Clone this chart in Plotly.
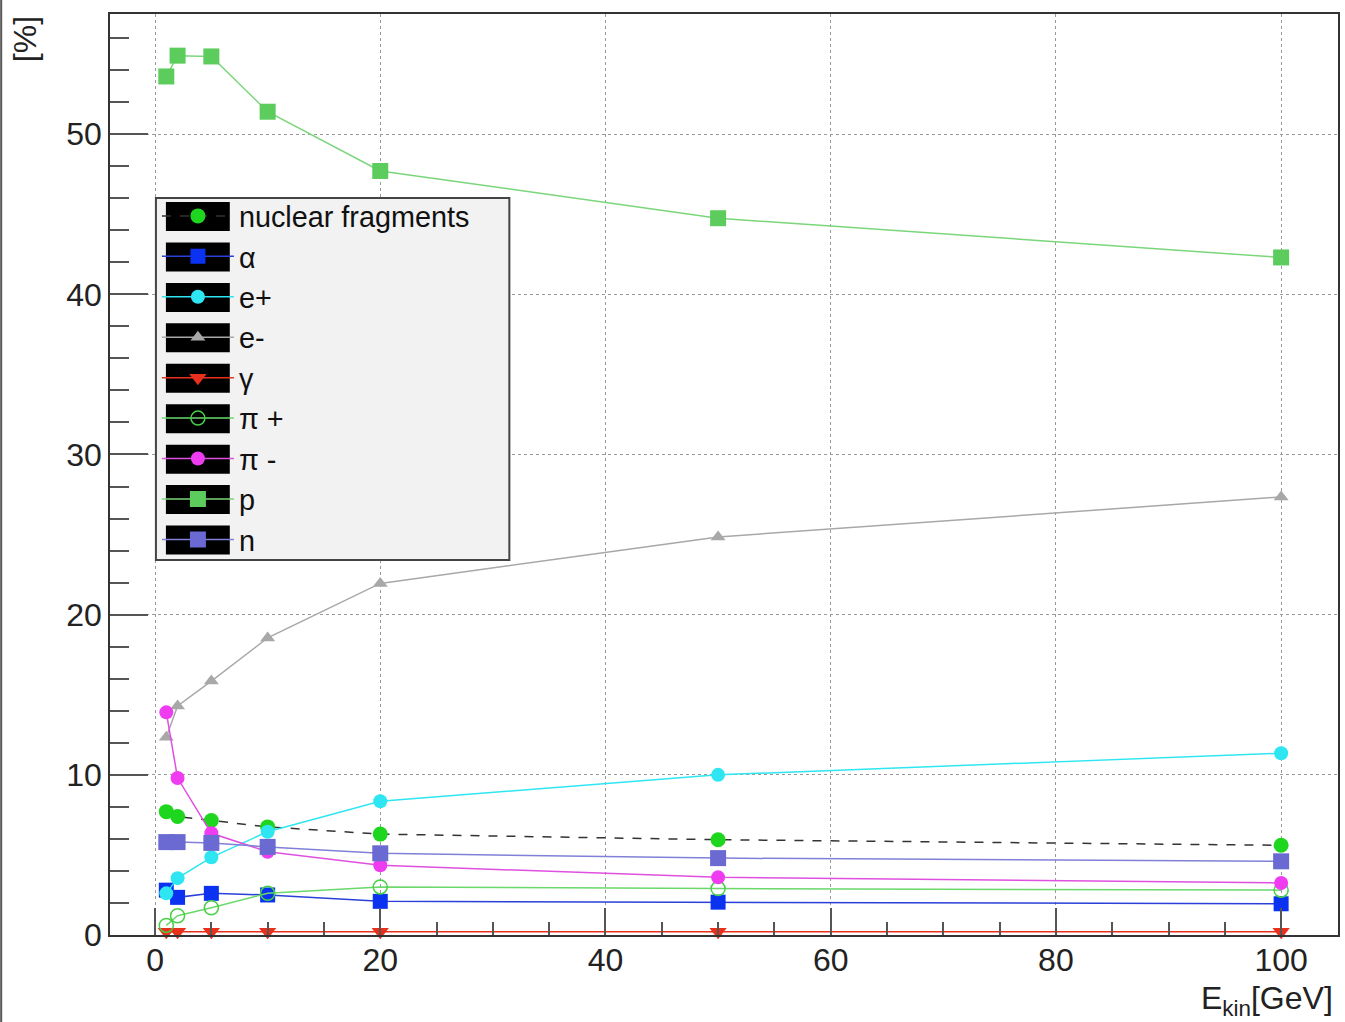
import plotly.graph_objects as go

# ---- data ----
energy = [1, 2, 5, 10, 20, 50, 100]
nuclear_fragments = [7.7, 7.4, 7.15, 6.75, 6.3, 5.95, 5.6]
alpha = [2.8, 2.35, 2.6, 2.5, 2.1, 2.05, 1.95]
e_plus = [2.6, 3.55, 4.85, 6.45, 8.35, 10.0, 11.35]
e_minus = [12.35, 14.3, 15.85, 18.55, 21.95, 24.85, 27.35]
gamma = [0.2, 0.2, 0.2, 0.2, 0.2, 0.2, 0.2]
pi_plus = [0.6, 1.2, 1.7, 2.6, 3.0, 2.9, 2.8]
pi_minus = [13.9, 9.8, 6.35, 5.2, 4.35, 3.6, 3.25]
proton = [53.6, 54.9, 54.85, 51.4, 47.7, 44.75, 42.3]
neutron = [5.8, 5.8, 5.75, 5.5, 5.1, 4.8, 4.6]

x_ticks = [0, 20, 40, 60, 80, 100]
y_ticks = [0, 10, 20, 30, 40, 50]

FONT = "Liberation Sans"

series = [
    ("nuclear fragments", nuclear_fragments, dict(color="#1fd61f", symbol="circle", size=15),
     dict(color="#333333", width=1.5, dash="dash")),
    ("α", alpha, dict(color="#0a32f0", symbol="square", size=15), dict(color="#2a40d8", width=1.5)),
    ("e+", e_plus, dict(color="#2ee6f2", symbol="circle", size=14), dict(color="#2ee6f2", width=1.5)),
    ("e-", e_minus, dict(color="#a8a8a8", symbol="triangle-up", size=13), dict(color="#a8a8a8", width=1.5)),
    ("γ", gamma, dict(color="#e8301c", symbol="triangle-down", size=15), dict(color="#e8301c", width=1.5)),
    ("π +", pi_plus, dict(color="#46d046", symbol="circle-open", size=14, line=dict(width=1.5)),
     dict(color="#6ad86a", width=1.5)),
    ("π -", pi_minus, dict(color="#f03cf0", symbol="circle", size=14), dict(color="#e050e0", width=1.5)),
    ("p", proton, dict(color="#5ccc5c", symbol="square", size=16), dict(color="#7ad67a", width=1.5)),
    ("n", neutron, dict(color="#6a6ad2", symbol="square", size=16), dict(color="#8080d8", width=1.5)),
]

fig = go.Figure()
for i, (name, vals, marker, line) in enumerate(series):
    fig.add_trace(go.Scatter(
        x=energy, y=vals, name=name, mode="lines+markers",
        marker=marker, line=line, cliponaxis=False, legendgroup=f"g{i}",
    ))

W, H = 1345, 1022
L, R, T, B = 110, 5, 14, 87
pw, ph = W - L - R, H - T - B


def px(xp):
    return (xp - L) / pw


def py(yp):
    return (H - B - yp) / ph


LEG_FONT = 28.8
ROW = LEG_FONT * 1.3 + 3
FIRST = 216.5

shapes = []
# legend box
shapes.append(dict(type="rect", xref="paper", yref="paper", x0=px(156), x1=px(510), y0=py(560), y1=py(198),
                   fillcolor="#f2f2f2", line=dict(color="#444444", width=2), layer="above"))
# black swatches
for k in range(9):
    cy = FIRST + ROW * k
    shapes.append(dict(type="rect", xref="paper", yref="paper", x0=px(166), x1=px(230),
                       y0=py(cy + 14.5), y1=py(cy - 14.5), fillcolor="black", line=dict(width=0),
                       layer="above"))
# left canvas border
shapes.append(dict(type="line", xref="paper", yref="paper", x0=px(1), x1=px(1), y0=py(1022), y1=py(0),
                   line=dict(color="#555555", width=2), layer="above"))

axis_common = dict(
    ticks="inside", tickcolor="#555555", tickwidth=1.5,
    showline=True, linecolor="#333333", linewidth=1.5, mirror=True,
    showgrid=True, gridcolor="#999999", griddash="dot", gridwidth=1,
    zeroline=False, tickfont=dict(family=FONT, size=32, color="#222222"),
)

fig.update_layout(
    width=W, height=H,
    margin=dict(l=L, r=R, t=T, b=B),
    paper_bgcolor="white", plot_bgcolor="white",
    font=dict(family=FONT, color="#111111"),
    xaxis=dict(range=[-4, 105.05], tickvals=x_ticks, ticklen=27,
               minor=dict(dtick=5, tick0=0, ticks="inside", ticklen=13, tickcolor="#555555", showgrid=False),
               ticklabelstandoff=-4, **axis_common),
    yaxis=dict(range=[0, 57.5], tickvals=y_ticks, ticklen=38,
               minor=dict(dtick=2, tick0=0, ticks="inside", ticklen=19, tickcolor="#555555", showgrid=False),
               ticklabelstandoff=0, **axis_common),
    showlegend=True,
    legend=dict(x=px(157), y=py(FIRST - 25.8), xanchor="left", yanchor="top", bgcolor="rgba(0,0,0,0)",
                borderwidth=0, font=dict(family=FONT, size=LEG_FONT, color="#111111"),
                itemwidth=72, tracegroupgap=0, traceorder="normal"),
    shapes=shapes,
    annotations=[
        dict(text="[%]", xref="paper", yref="paper", x=px(25), y=py(14), xanchor="center", yanchor="top",
             textangle=-90, showarrow=False, font=dict(family=FONT, size=32, color="#222222")),
        dict(text="E<sub>kin</sub>[GeV]", xref="paper", yref="paper", x=px(1337), y=py(1000),
             xanchor="right", yanchor="middle", showarrow=False,
             font=dict(family=FONT, size=32, color="#222222")),
    ],
)

fig.write_html("out.html", config={"displayModeBar": False},
               post_script="document.body.style.margin='0px';")
